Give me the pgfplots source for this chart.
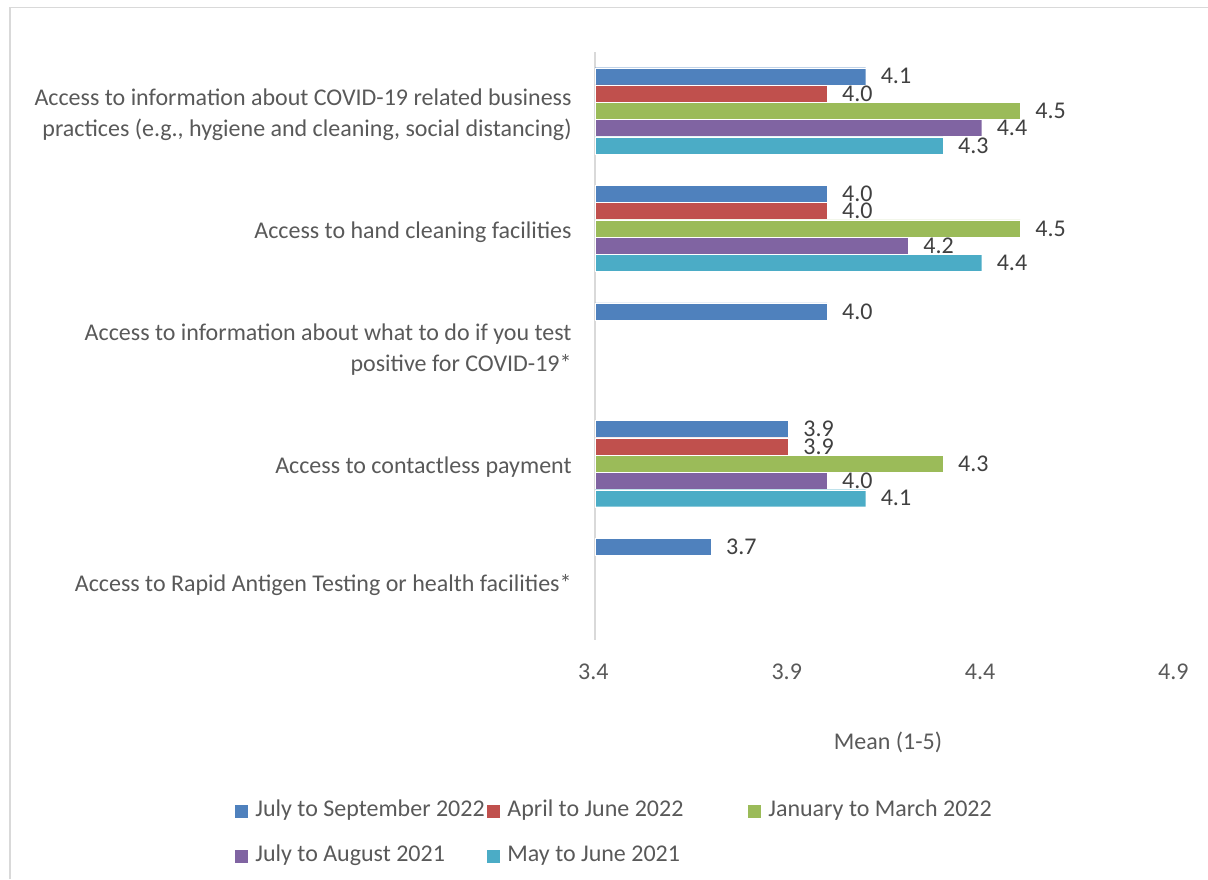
\documentclass[border=0pt]{standalone}
\usepackage{pgfplots}
\pgfplotsset{compat=1.18}
\usepackage{fontspec}
\setmainfont{Carlito}
\definecolor{cBlue}{HTML}{4F81BD}
\definecolor{cRed}{HTML}{C0504D}
\definecolor{cGreen}{HTML}{9BBB59}
\definecolor{cPurple}{HTML}{8064A2}
\definecolor{cCyan}{HTML}{4BACC6}
\definecolor{txt}{HTML}{595959}
\definecolor{val}{HTML}{404040}
\definecolor{frame}{HTML}{D9D9D9}
\begin{document}
\begin{tikzpicture}
\useasboundingbox (0,0) rectangle (604pt,439.5pt);
\draw[frame, line width=0.6pt] (5pt,0) -- (5pt,435.75pt) -- (604pt,435.75pt);
\begin{axis}[
  at={(297.5pt,119.5pt)}, anchor=south west,
  scale only axis, width=290pt, height=294pt,
  xbar, bar width=0.145,
  xmin=3.4, xmax=4.9, ymin=-0.5, ymax=4.5,
  y dir=reverse,
  /pgf/number format/assume math mode=true,
  xtick={3.4,3.9,4.4,4.9},
  xticklabels={3.4,3.9,4.4,4.9},
  ytick={0,1,2,3,4},
  yticklabels={
    {Access to information about COVID-19 related business\\practices (e.g., hygiene and cleaning, social distancing)},
    {Access to hand cleaning facilities},
    {Access to information about what to do if you test\\positive for COVID-19*},
    {Access to contactless payment},
    {Access to Rapid Antigen Testing or health facilities*}},
  separate axis lines,
  axis x line*=bottom, axis y line*=left,
  x axis line style={draw=none},
  y axis line style={draw=frame, line width=0.8pt, -},
  major tick length=0pt,
  xtick style={draw=none}, ytick style={draw=none},
  tick label style={font=\fontsize{12}{15.5}\selectfont, text=txt},
  yticklabel style={align=right, inner sep=0pt, xshift=-11.5pt, yshift=-1.8pt},
  xticklabel style={anchor=center, yshift=-16pt, xshift=-0.8pt},
  xlabel={Mean (1-5)},
  xlabel style={at={(axis description cs:0.5,0)}, anchor=center, yshift=-51pt, xshift=1.5pt, font=\fontsize{12}{14}\selectfont, text=txt},
  nodes near coords,
  nodes near coords align={horizontal},
  point meta=x,
  every node near coord/.append style={anchor=west, inner sep=0pt, xshift=7.5pt, font=\fontsize{12}{14}\selectfont, text=val,
    /pgf/number format/assume math mode=true,
    /pgf/number format/fixed, /pgf/number format/precision=1, /pgf/number format/fixed zerofill},
  legend columns=3,
  legend image code/.code={\fill[#1,draw=none] (0pt,-3.25pt) rectangle (6.5pt,3.25pt);},
  legend style={at={(axis description cs:-0.6207,-0.2725)}, anchor=north west, draw=none, fill=none,
    inner sep=0pt, row sep=12pt,
    font=\fontsize{12}{14}\selectfont, text=txt,
    nodes={text width=119.5pt, align=flush left, inner sep=0pt, text height=8pt, text depth=2.5pt},
    /tikz/every odd column/.append style={column sep=3.5pt},
    /tikz/column 2/.append style={nodes={text width=116pt}},
    /tikz/column 4/.append style={nodes={text width=120.5pt}}},
  legend cell align=left,
]
\addplot[fill=cBlue, draw=white, line width=0.15pt, bar shift=-0.294] coordinates {(4.1,0) (4.0,1) (4.0,2) (3.9,3) (3.7,4)};
\addplot[fill=cRed, draw=white, line width=0.15pt, bar shift=-0.147] coordinates {(4.0,0) (4.0,1) (3.9,3)};
\addplot[fill=cGreen, draw=white, line width=0.15pt, bar shift=0] coordinates {(4.5,0) (4.5,1) (4.3,3)};
\addplot[fill=cPurple, draw=white, line width=0.15pt, bar shift=0.147] coordinates {(4.4,0) (4.21,1) (4.0,3)};
\addplot[fill=cCyan, draw=white, line width=0.15pt, bar shift=0.294] coordinates {(4.3,0) (4.4,1) (4.1,3)};
\legend{July to September 2022, April to June 2022, January to March 2022, July to August 2021, May to June 2021}
\end{axis}
\end{tikzpicture}
\end{document}
